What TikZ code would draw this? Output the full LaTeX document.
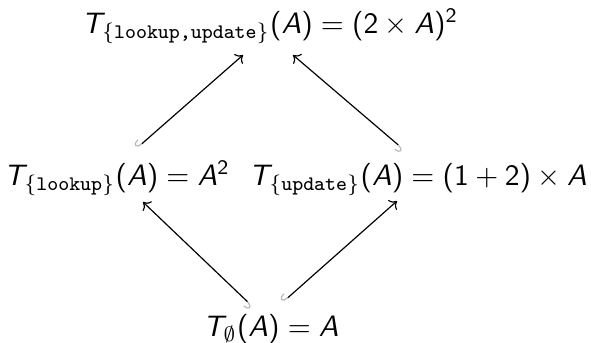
\documentclass[tikz,border=0pt]{standalone}
\usepackage{amsmath}
\usetikzlibrary{arrows.meta}
\DeclareSymbolFont{operators}{OT1}{cmss}{m}{n}
\DeclareMathAlphabet{\mathsfit}{OT1}{cmss}{m}{sl}
\newcommand\sT{\mathsfit{T}}
\newcommand\sA{\mathsfit{A}}
\begin{document}
\begin{tikzpicture}[x=0.339pt,y=-0.339pt,
  lbl/.style={anchor=base,inner sep=0pt},
  hk/.style={{Hooks[right,width=4.2pt,length=2.1pt,color=gray!55]}-{Computer Modern Rightarrow[length=2.2pt,width=4.4pt]},line width=0.4pt}]
\useasboundingbox[fill=white] (0,0) rectangle (591,342);
\node[lbl] (top) at (270,33) {$\sT_{\{\texttt{lookup,update}\}}(\sA) = (2\times\sA)^{2}$};
\node[lbl] (ml) at (117,185) {$\sT_{\{\texttt{lookup}\}}(\sA) = \sA^{2}$};
\node[lbl] (mr) at (418,185) {$\sT_{\{\texttt{update}\}}(\sA) = (1+2)\times\sA$};
\node[lbl] (bot) at (271,336) {$\sT_{\emptyset}(\sA) = \sA$};
\draw[hk] ([shift={(-19,-30)}]bot.base) -- ([shift={(26,17)}]ml.base);
\draw[hk] ([shift={(12,-34)}]bot.base) -- ([shift={(-21,16)}]mr.base);
\draw[hk] ([shift={(20,-37)}]ml.base) -- ([shift={(-27,22)}]top.base);
\draw[hk] ([shift={(-15,-36)}]mr.base) -- ([shift={(23,22)}]top.base);
\end{tikzpicture}
\end{document}
